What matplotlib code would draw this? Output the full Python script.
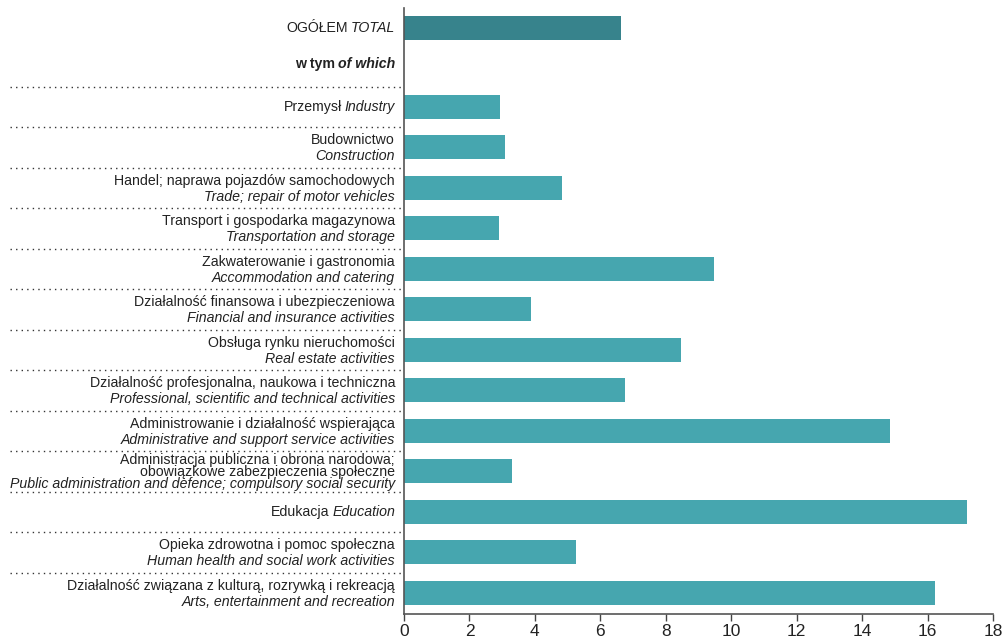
import matplotlib.pyplot as plt
from matplotlib import font_manager

names_pl = ["Przemysł", "Budownictwo", "Handel; naprawa pojazdów samochodowych",
            "Transport i gospodarka magazynowa", "Zakwaterowanie i gastronomia",
            "Działalność finansowa i ubezpieczeniowa", "Obsługa rynku nieruchomości",
            "Działalność profesjonalna, naukowa i techniczna",
            "Administrowanie i działalność wspierająca",
            "Administracja publiczna i obrona narodowa;\nobowiązkowe zabezpieczenia społeczne",
            "Edukacja", "Opieka zdrowotna i pomoc społeczna",
            "Działalność związana z kulturą, rozrywką i rekreacją"]
names_en = ["Industry", "Construction", "Trade; repair of motor vehicles",
            "Transportation and storage", "Accommodation and catering",
            "Financial and insurance activities", "Real estate activities",
            "Professional, scientific and technical activities",
            "Administrative and support service activities",
            "Public administration and defence; compulsory social security",
            "Education", "Human health and social work activities",
            "Arts, entertainment and recreation"]
one_line = [True, False, False, False, False, False, False, False, False, False, True, False, False]
values = [2.93, 3.09, 4.83, 2.90, 9.47, 3.88, 8.47, 6.75, 14.85, 3.30, 17.2, 5.26, 16.23]
total_value = 6.63

installed = {f.name for f in font_manager.fontManager.ttflist}
fam = "Liberation Sans Narrow" if "Liberation Sans Narrow" in installed else "Liberation Sans"
plt.rcParams['font.family'] = [fam, 'DejaVu Sans']

fig = plt.figure(figsize=(10.05, 6.39), dpi=100)
ax = fig.add_axes([404/1005, 1 - 614/639, 589/1005, 606/639])

ypos = list(range(len(values)))
ax.barh(ypos, values, height=0.59, color="#46a6af")
ax.barh([-1.95], [total_value], height=0.59, color="#37838c")

ax.set_xlim(0, 18)
ax.set_ylim(12.52, -2.44)
ax.set_xticks(range(0, 19, 2))
ax.set_yticks([])
ax.tick_params(axis='x', direction='out', length=5, width=1, colors="#444444", labelsize=12.5,
               labelcolor="#222222", pad=2)
for s in ['top', 'right']:
    ax.spines[s].set_visible(False)
for s in ['left', 'bottom']:
    ax.spines[s].set_color("#555555")
    ax.spines[s].set_linewidth(1.2)

fs = 10.2
tx = -9 / 589
trans = ax.get_yaxis_transform()
px = 1 / 40.5

def mixed(y, pl, en, weight='normal'):
    t = ax.text(tx, y, en, transform=trans, ha='right', va='center', fontsize=fs,
                style='italic', weight=weight, color="#222222")
    ax.annotate(pl, xy=(0, y), xycoords=(t, 'data'), xytext=(-2, 0),
                textcoords='offset points', ha='right', va='center', fontsize=fs,
                weight=weight, color="#222222")

mixed(-1.95, "OGÓŁEM", "TOTAL")
mixed(-1.06, "w tym", "of which", weight='bold')

for i, (pl, en) in enumerate(zip(names_pl, names_en)):
    if one_line[i]:
        mixed(i, pl, en)
    elif "\n" in pl:
        a, b = pl.split("\n")
        for k, (s, st) in enumerate([(a, 'normal'), (b, 'normal'), (en, 'italic')]):
            ax.text(tx, i + ((k - 1) * 12 + 1) * px, s, transform=trans, ha='right',
                    va='center', fontsize=fs, style=st, color="#222222")
    else:
        ax.text(tx, i - 7 * px, pl, transform=trans, ha='right', va='center',
                fontsize=fs, color="#222222")
        ax.text(tx, i + 9 * px, en, transform=trans, ha='right', va='center',
                fontsize=fs, style='italic', color="#222222")

# dotted separators left of the axis
seps = [-0.49] + [i + 0.5 for i in range(len(values) - 1)]
for y in seps:
    ax.plot([-394/589, -0.002], [y, y], transform=trans, clip_on=False,
            color="#333333", lw=1, ls=(0, (1, 3)))

fig.savefig("out.png", dpi=100)
